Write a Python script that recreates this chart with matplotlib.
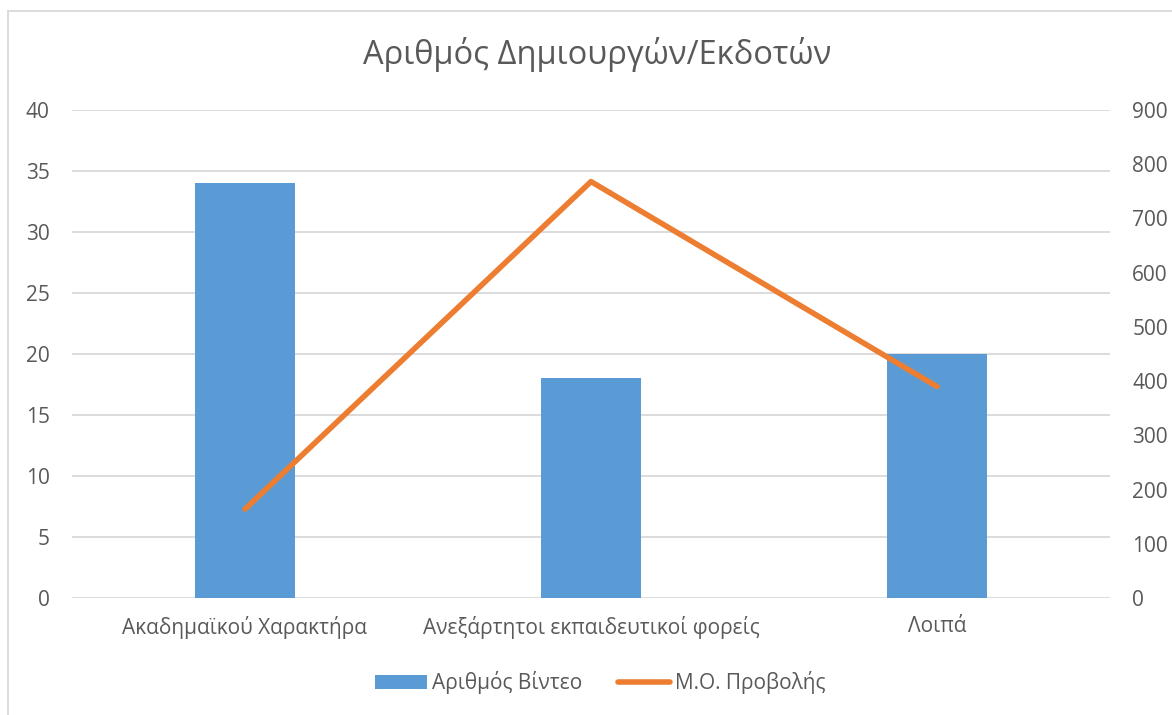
import matplotlib
matplotlib.use("Agg")
import matplotlib.pyplot as plt
from matplotlib.lines import Line2D
from matplotlib.patches import Patch
import numpy as np

categories = ["Ακαδημαϊκού Χαρακτήρα", "Ανεξάρτητοι εκπαιδευτικοί φορείς", "Λοιπά"]
videos = [34, 18, 20]
avg_views = [164, 768, 390]
left_ticks = [0, 5, 10, 15, 20, 25, 30, 35, 40]
right_ticks = [0, 100, 200, 300, 400, 500, 600, 700, 800, 900]
title = "Αριθμός Δημιουργών/Εκδοτών"
bar_label = "Αριθμός Βίντεο"
line_label = "Μ.Ο. Προβολής"

plt.rcParams['font.family'] = ['Open Sans', 'DejaVu Sans']
text_color = "#595959"
bar_color = "#5B9BD5"
line_color = "#ED7D31"
grid_color = "#D9D9D9"

W, H = 1172, 715
fig = plt.figure(figsize=(W/100, H/100), dpi=100)
ax = fig.add_axes([72/W, 1-598/H, (1110-72)/W, (598-110)/H])
x = np.arange(len(categories))
ax.bar(x, videos, width=0.29, color=bar_color, zorder=2)
ax.set_xlim(-0.5, len(categories)-0.5)
ax.set_ylim(0, 40)
ax.set_yticks(left_ticks)
ax.set_xticks(x)
ax.set_xticklabels(categories)
for s in ax.spines.values():
    s.set_visible(False)
ax.yaxis.grid(True, color=grid_color, linewidth=1.3, zorder=0)
ax.set_axisbelow(True)
ax.tick_params(axis='both', length=0, colors=text_color, labelsize=15)
ax.tick_params(axis='y', pad=16)
ax.tick_params(axis='x', pad=13)

ax2 = ax.twinx()
ax2.plot(x, avg_views, color=line_color, linewidth=4, solid_capstyle='round', solid_joinstyle='round', zorder=3)
ax2.set_ylim(0, 900)
ax2.set_yticks(right_ticks)
for s in ax2.spines.values():
    s.set_visible(False)
ax2.tick_params(axis='y', length=0, colors=text_color, labelsize=15, pad=16)

fig.text(597/W, 1-55/H, title, ha='center', va='center', fontsize=23.5, color=text_color)

handles = [Patch(facecolor=bar_color, edgecolor='none'),
           Line2D([0], [0], color=line_color, linewidth=4, solid_capstyle='round')]
fig.legend(handles, [bar_label, line_label], loc='center', bbox_to_anchor=(600/W, 1-683/H),
           ncol=2, frameon=False, fontsize=15, labelcolor=text_color,
           handlelength=2.5, handleheight=0.65, handletextpad=0.25, columnspacing=1.7)

# chart border (top & left visible)
fig.add_artist(Line2D([8/W, 8/W], [0, 1-11/H], color=grid_color, linewidth=1.3, transform=fig.transFigure))
fig.add_artist(Line2D([8/W, 1], [1-11/H, 1-11/H], color=grid_color, linewidth=1.3, transform=fig.transFigure))

fig.savefig("out.png", dpi=100, facecolor='white')
